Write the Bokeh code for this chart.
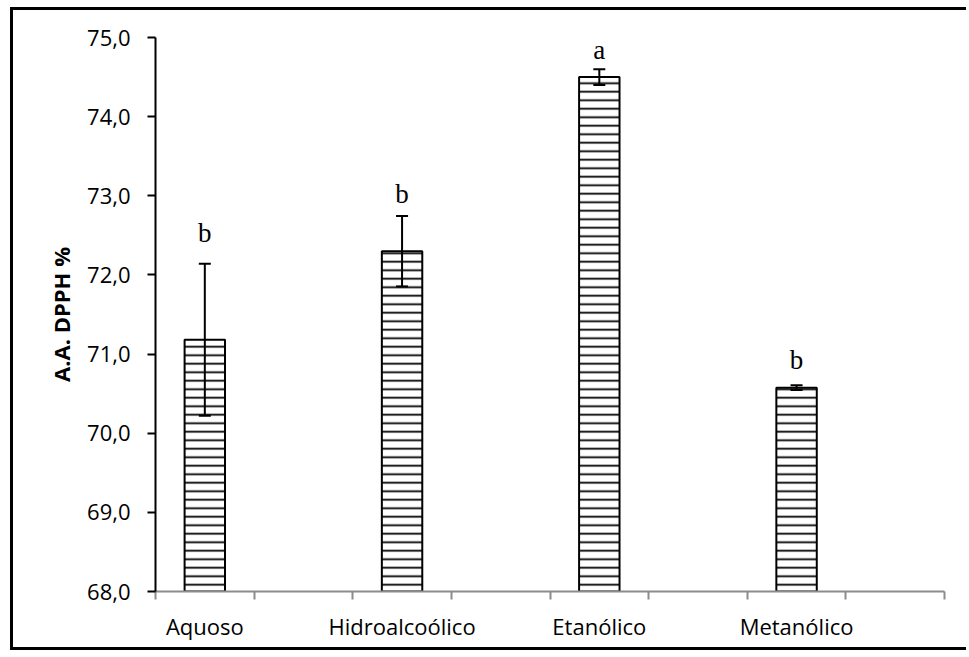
from bokeh.plotting import figure
from bokeh.models import ColumnDataSource, Whisker, TeeHead, FixedTicker, Range1d
from bokeh.core.properties import value
from bokeh.embed import file_html
from bokeh.resources import INLINE

categories = ["Aquoso", "Hidroalcoólico", "Etanólico", "Metanólico"]
means = [71.18, 72.30, 74.50, 70.575]
errors = [0.96, 0.445, 0.10, 0.03]
letters = ["b", "b", "a", "b"]
letter_y = [72.53, 73.02, 74.84, 70.92]
y_ticks = [68, 69, 70, 71, 72, 73, 74, 75]

# Each category occupies two slots on the axis (the second slot is empty)
xs = [2 * i + 0.5 for i in range(len(categories))]
src = ColumnDataSource(dict(
    x=xs, top=means,
    upper=[m + e for m, e in zip(means, errors)],
    lower=[m - e for m, e in zip(means, errors)],
    letter=letters, ly=letter_y,
))

p = figure(width=956, height=643, output_backend="svg", toolbar_location=None,
           x_range=Range1d(0, 2 * len(categories)), y_range=Range1d(68, 75),
           min_border_left=142, min_border_right=25, min_border_top=27,
           min_border_bottom=62)
p.styles = {"border-top": "3px solid black", "border-left": "3px solid black",
            "border-bottom": "3px solid black", "margin-left": "10px",
            "margin-top": "7px"}
p.outline_line_color = None
p.xgrid.grid_line_color = None
p.ygrid.grid_line_color = None
p.background_fill_color = "white"
p.border_fill_color = "white"

p.vbar(x="x", top="top", bottom=68, width=0.41, source=src,
       fill_color="white", line_color="black", line_width=2,
       hatch_pattern="horizontal_line", hatch_color="black",
       hatch_scale=8.5, hatch_weight=1.8)

w = Whisker(base="x", upper="upper", lower="lower", source=src,
            line_color="black", line_width=2, level="overlay",
            upper_head=TeeHead(size=12, line_width=2, line_color="black"),
            lower_head=TeeHead(size=12, line_width=2, line_color="black"))
p.add_layout(w)

p.text(x="x", y="ly", text="letter", source=src, text_align="center",
       text_baseline="middle", text_font=value("Liberation Serif"),
       text_font_size="27px", text_color="black")

# Y axis
p.yaxis.ticker = FixedTicker(ticks=y_ticks)
p.yaxis.major_label_overrides = {t: f"{t:.1f}".replace(".", ",") for t in y_ticks}
p.yaxis.axis_line_color = "black"
p.yaxis.axis_line_width = 2
p.yaxis.major_tick_line_color = "black"
p.yaxis.major_tick_line_width = 2
p.yaxis.major_tick_out = 8
p.yaxis.major_tick_in = 0
p.yaxis.minor_tick_line_color = None
p.yaxis.major_label_standoff = 17
p.yaxis.major_label_text_font = "Open Sans"
p.yaxis.major_label_text_font_size = "22px"
p.yaxis.major_label_text_color = "black"
p.yaxis.axis_label = "A.A. DPPH %"
p.yaxis.axis_label_text_font = "Open Sans"
p.yaxis.axis_label_text_font_style = "bold"
p.yaxis.axis_label_text_font_size = "22px"
p.yaxis.axis_label_text_color = "black"
p.yaxis.axis_label_standoff = 8

# X axis
p.xaxis.ticker = FixedTicker(ticks=xs, minor_ticks=list(range(0, 2 * len(categories) + 1)))
p.xaxis.major_label_overrides = {x: c for x, c in zip(xs, categories)}
p.xaxis.axis_line_color = "#8c8c8c"
p.xaxis.axis_line_width = 2
p.xaxis.major_tick_line_color = None
p.xaxis.major_tick_out = 8
p.xaxis.major_tick_in = 0
p.xaxis.minor_tick_line_color = "#8c8c8c"
p.xaxis.minor_tick_line_width = 2
p.xaxis.minor_tick_out = 8
p.xaxis.minor_tick_in = 0
p.xaxis.major_label_standoff = 11
p.xaxis.major_label_text_font = "Open Sans"
p.xaxis.major_label_text_font_size = "22px"
p.xaxis.major_label_text_color = "black"

open("out.html", "w").write(file_html(p, INLINE))
